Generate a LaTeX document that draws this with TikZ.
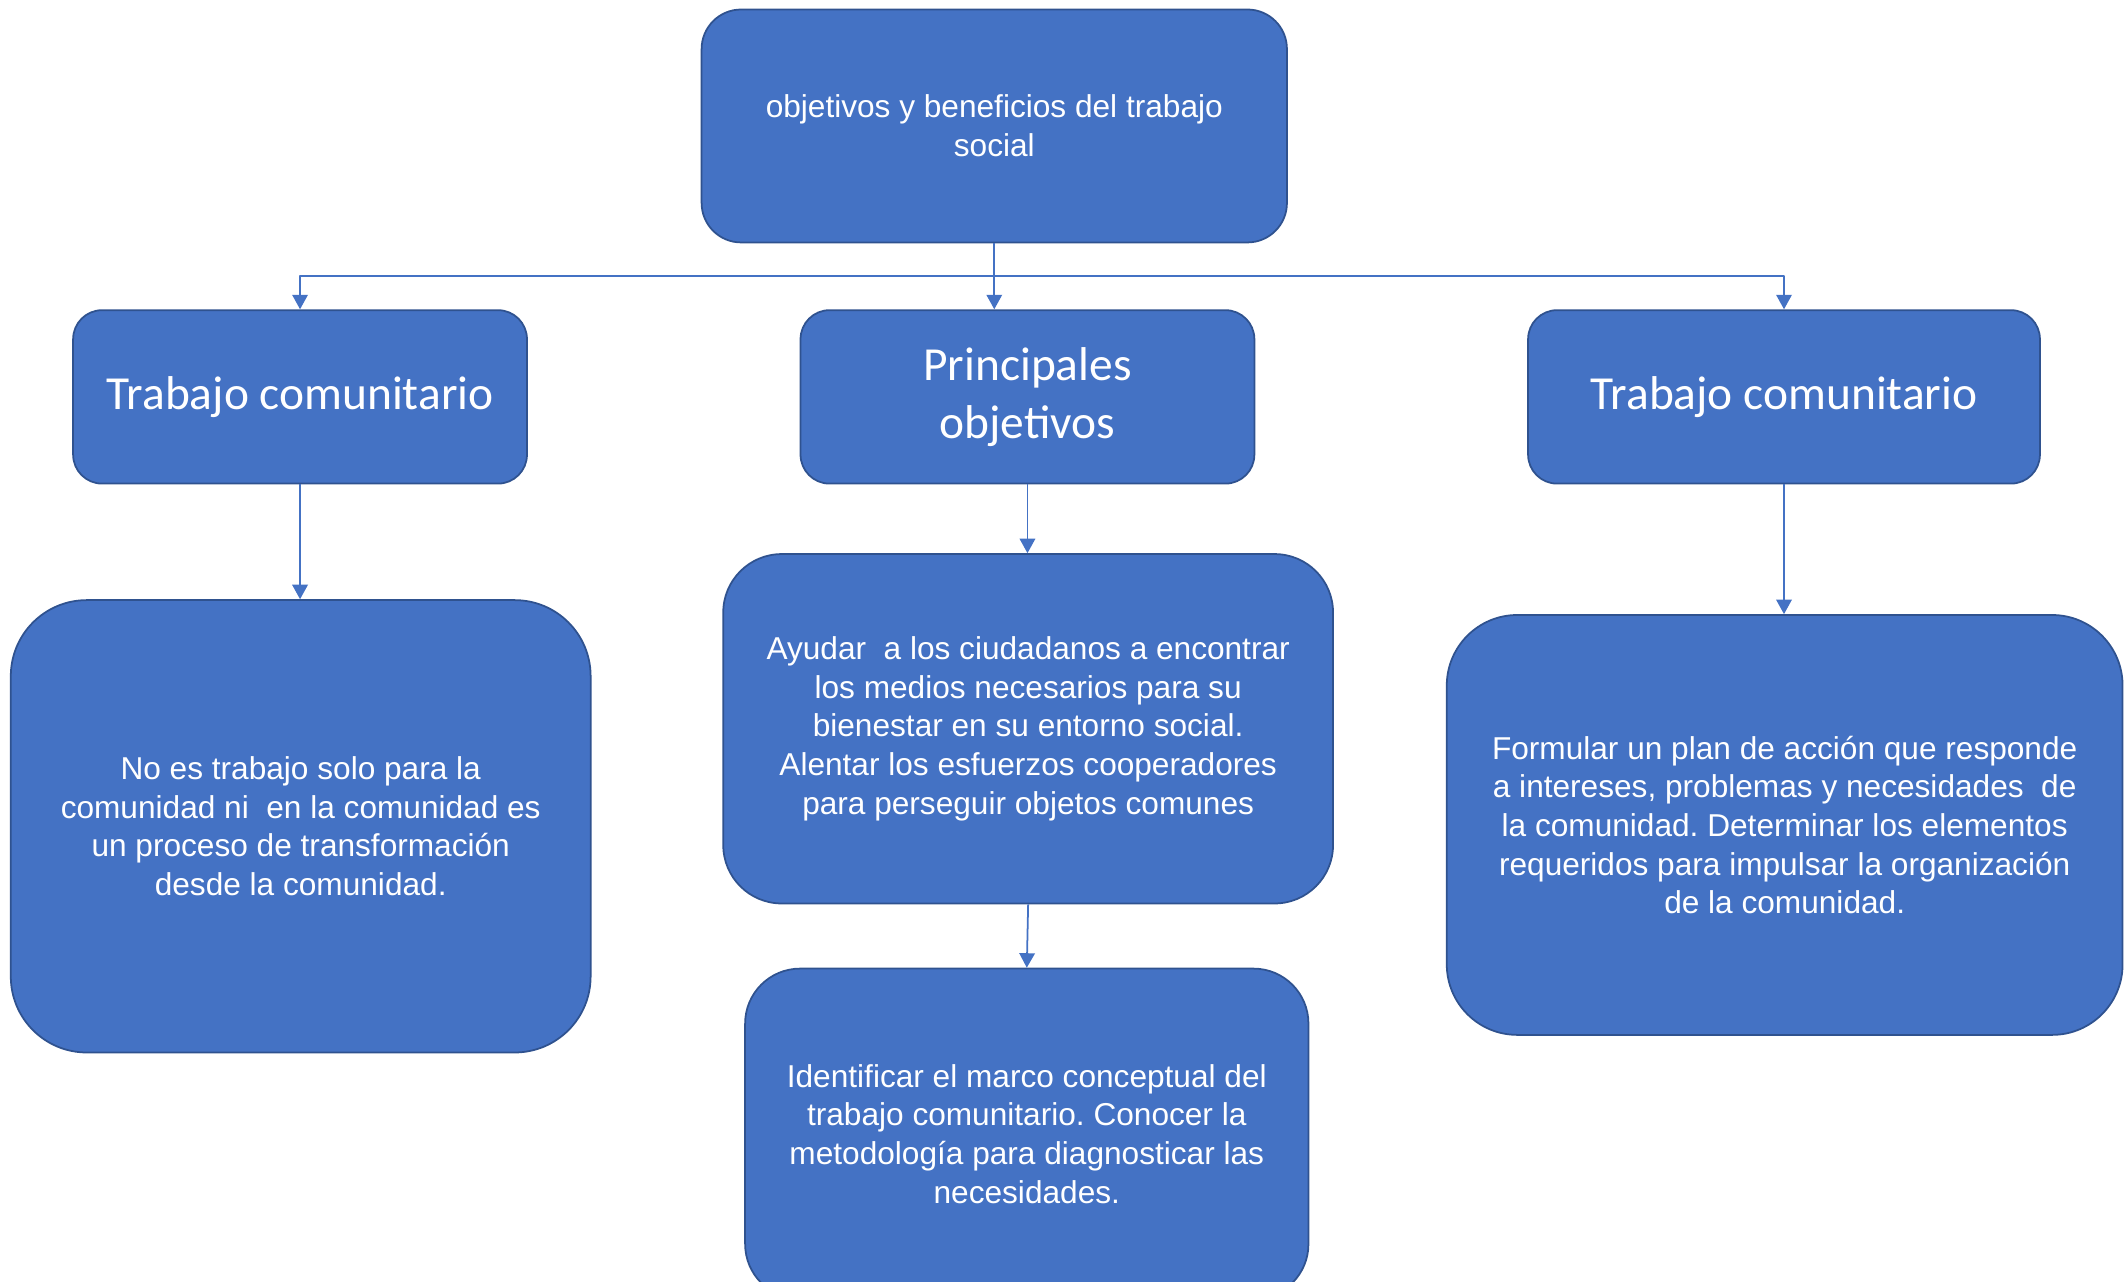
\documentclass[tikz,border=0pt]{standalone}
\usepackage{fontspec}
\setmainfont{Liberation Sans}
\newfontfamily\calibri{Carlito}
\usetikzlibrary{arrows.meta}
\definecolor{azul}{HTML}{4472C4}
\definecolor{borde}{HTML}{2F528F}
\frenchspacing
\begin{document}
\begin{tikzpicture}[x=0.0271cm, y=-0.0271cm, line join=round, >={Triangle[width=3.1mm,length=2.9mm]}]
	\tikzset{caja/.style={draw=borde, line width=1pt, fill=azul, text=white, align=center, inner sep=0pt, font=\fontsize{18}{22}\selectfont},
		titulo/.style={caja, minimum height=3.47cm, rounded corners=0.58cm, font=\calibri\fontsize{27}{33}\selectfont},
		flecha/.style={->, draw=azul, line width=1pt}}
	\path[use as bounding box] (0,0) rectangle (1568,946);
	\clip (0,0) rectangle (1568,946);
	\node[caja, minimum width=11.71cm, minimum height=4.66cm, rounded corners=0.79cm] (obj) at (734,93) {objetivos y beneficios del trabajo\\social};
	\node[titulo, minimum width=9.08cm] (trabA) at (221.5,293) {Trabajo comunitario};
	\node[titulo, minimum width=9.08cm] (princ) at (758.5,293) {Principales\\objetivos};
	\node[titulo, minimum width=10.24cm] (trabB) at (1317,293) {Trabajo comunitario};
	\node[caja, minimum width=11.60cm, minimum height=9.05cm, rounded corners=1.52cm] (descA) at (222,610) {No es trabajo solo para la\\comunidad ni\ \ en la comunidad es\\un proceso de transformación\\desde la comunidad.};
	\node[caja, minimum width=12.20cm, minimum height=6.99cm, rounded corners=1.17cm] (descP) at (759,538) {Ayudar\ \ a los ciudadanos a encontrar\\los medios necesarios para su\\bienestar en su entorno social.\\Alentar los esfuerzos cooperadores\\para perseguir objetos comunes};
	\node[caja, minimum width=11.27cm, minimum height=6.61cm, rounded corners=1.1cm] (descQ) at (758,837) {Identificar el marco conceptual del\\trabajo comunitario. Conocer la\\metodología para diagnosticar las\\necesidades.};
	\node[caja, minimum width=13.52cm, minimum height=8.40cm, rounded corners=1.41cm] (descB) at (1317.5,609) {Formular un plan de acción que responde\\a intereses, problemas y necesidades\ \ de\\la comunidad. Determinar los elementos\\requeridos para impulsar la organización\\de la comunidad.};
	\coordinate (bus) at (734,204);
	\draw[flecha] (obj.south) -- (bus) -| (trabA.north);
	\draw[flecha] (bus) -- (bus |- princ.north);
	\draw[flecha] (bus) -| (trabB.north);
	\draw[flecha] (trabA.south) -- (trabA.south |- descA.north);
	\draw[flecha] (princ.south) -- (princ.south |- descP.north);
	\draw[flecha] (trabB.south) -- (trabB.south |- descB.north);
	\draw[flecha] (descP.south) -- (descQ.north);
\end{tikzpicture}
\end{document}
